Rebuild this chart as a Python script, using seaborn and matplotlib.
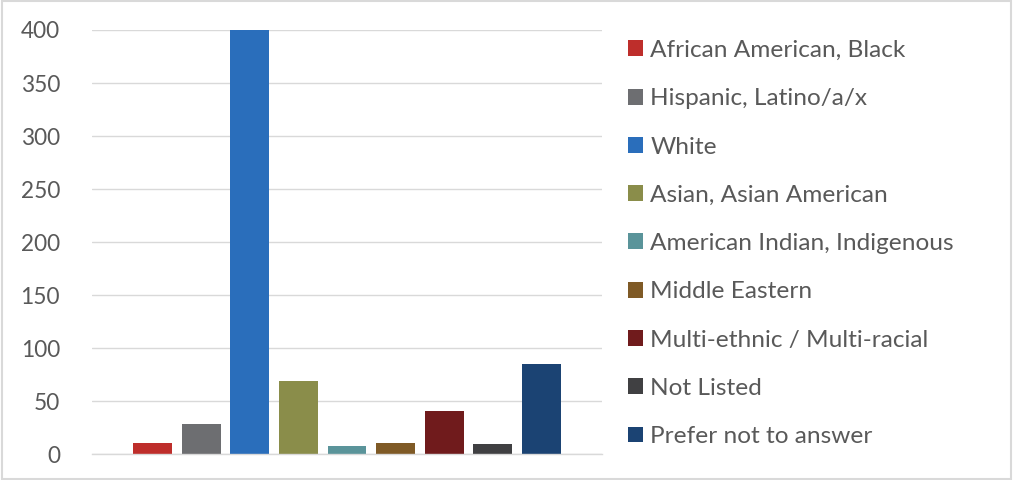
import matplotlib
matplotlib.use("Agg")
import matplotlib.pyplot as plt
from matplotlib.patches import Patch, Rectangle
import seaborn as sns
import pandas as pd

categories = [
    "African American, Black",
    "Hispanic, Latino/a/x",
    "White",
    "Asian, Asian American",
    "American Indian, Indigenous",
    "Middle Eastern",
    "Multi-ethnic / Multi-racial",
    "Not Listed",
    "Prefer not to answer",
]
values = [11, 29, 400, 69, 8, 11, 41, 10, 85]
colors = ["#BE2E2B", "#6D6E71", "#2A6EBB", "#8A8D4A", "#5A949A",
          "#7F5A26", "#701B1C", "#404042", "#1B4373"]
y_ticks = [0, 50, 100, 150, 200, 250, 300, 350, 400]

sns.set_theme(style="white")
plt.rcParams["font.family"] = ["Lato", "DejaVu Sans"]

df = pd.DataFrame({"group": categories, "count": values})

fig = plt.figure(figsize=(10.13, 4.8), dpi=100)
ax = fig.add_axes([92 / 1013, 1 - 454.3 / 480, 510 / 1013, (454.3 - 30) / 480])

sns.barplot(data=df, x="group", y="count", hue="group", order=categories,
            hue_order=categories, palette=colors, width=0.8, dodge=False,
            legend=False, saturation=1, ax=ax, linewidth=0)

ax.set_xlim(-1.245, len(categories) - 1 + 1.245)
ax.set_ylim(0, 400)
ax.set_yticks(y_ticks)
ax.set_yticklabels([str(t) for t in y_ticks])
ax.set_xticks([])
ax.set_xlabel("")
ax.set_ylabel("")
ax.yaxis.grid(True, color="#D9D9D9", linewidth=1.0)
ax.set_axisbelow(True)
for s in ["top", "right", "left"]:
    ax.spines[s].set_visible(False)
ax.spines["bottom"].set_color("#D9D9D9")
ax.spines["bottom"].set_linewidth(1.0)
ax.tick_params(axis="y", length=0, pad=23, labelsize=16.3, labelcolor="#595959")

handles = [Patch(facecolor=c, edgecolor="none") for c in colors]
leg = fig.legend(handles, categories, loc="upper left",
                 bbox_to_anchor=(628 / 1013, 1 - 40 / 480),
                 frameon=False, fontsize=17.6, labelcolor="#595959",
                 handlelength=0.62, handleheight=0.62, handletextpad=0.3,
                 labelspacing=1.115, borderaxespad=0, borderpad=0)

fig.patches.append(Rectangle((0.002, 0.002), 0.996, 0.996, transform=fig.transFigure,
                             fill=False, edgecolor="#D9D9D9", linewidth=1.5))

fig.savefig("out.png", dpi=100)
